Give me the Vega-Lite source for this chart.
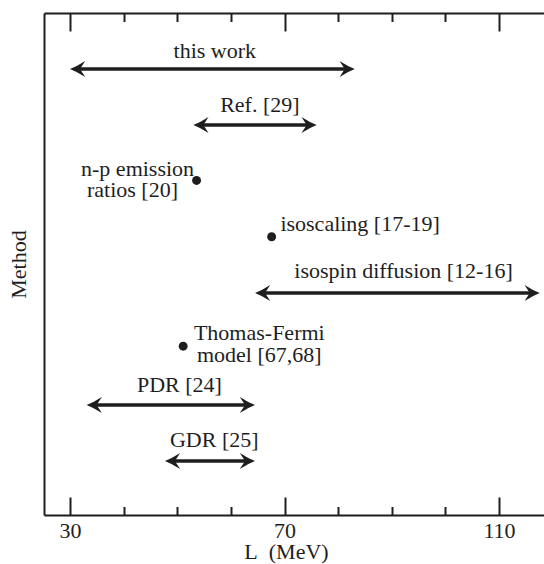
{
  "$schema": "https://vega.github.io/schema/vega-lite/v6.json",
  "width": 500,
  "height": 502,
  "autosize": "none",
  "padding": {"left": 44, "top": 13, "right": 0, "bottom": 49},
  "background": "white",
  "config": {"font": "Liberation Serif", "view": {"stroke": null}},
  "datasets": {
    "ranges": [
      {"method": "this work", "lo": 30.0, "hi": 83.1, "row": 1},
      {"method": "Ref. [29]", "lo": 53.0, "hi": 76.0, "row": 2},
      {"method": "isospin diffusion [12-16]", "lo": 64.5, "hi": 117.6, "row": 5},
      {"method": "PDR [24]", "lo": 33.1, "hi": 64.5, "row": 7},
      {"method": "GDR [25]", "lo": 47.7, "hi": 64.5, "row": 8}
    ],
    "points": [
      {"method": "n-p emission ratios [20]", "L": 53.6, "row": 2.99},
      {"method": "isoscaling [17-19]", "L": 67.6, "row": 3.995},
      {"method": "Thomas-Fermi model [67,68]", "L": 51.1, "row": 5.95}
    ],
    "labels": [
      {"text": "this work", "L": 57.0, "row": 0.804},
      {"text": "Ref. [29]", "L": 65.4, "row": 1.768},
      {"text": "n-p emission", "L": 42.6, "row": 2.91},
      {"text": "ratios [20]", "L": 41.65, "row": 3.277},
      {"text": "isoscaling [17-19]", "L": 84.1, "row": 3.887},
      {"text": "isospin diffusion [12-16]", "L": 92.2, "row": 4.73},
      {"text": "Thomas-Fermi", "L": 65.3, "row": 5.84},
      {"text": "model [67,68]", "L": 65.3, "row": 6.226},
      {"text": "PDR [24]", "L": 50.4, "row": 6.76},
      {"text": "GDR [25]", "L": 56.9, "row": 7.745}
    ]
  },
  "resolve": {"axis": {"x": "independent"}},
  "layer": [
    {
      "data": {"name": "ranges"},
      "mark": {"type": "rule", "color": "#1e1e1e", "strokeWidth": 3.5, "xOffset": 5, "x2Offset": -5},
      "encoding": {
        "x": {
          "field": "lo", "type": "quantitative",
          "scale": {"domain": [25.15, 118.39], "nice": false, "zero": false},
          "axis": {
            "orient": "bottom",
            "values": [30, 70, 110],
            "ticks": true, "tickSize": -18, "tickColor": "#1e1e1e", "tickWidth": 2,
            "grid": false,
            "domainColor": "#1e1e1e", "domainWidth": 2,
            "labelFont": "Liberation Serif", "labelFontSize": 22, "labelColor": "#1e1e1e",
            "labelPadding": 23.5,
            "title": "L\u00a0\u00a0(MeV)",
            "titleFont": "Liberation Serif", "titleFontSize": 22, "titleFontWeight": "normal", "titleColor": "#1e1e1e",
            "titlePadding": 0,
            "titleX": 242
          }
        },
        "x2": {"field": "hi"},
        "y": {
          "field": "row", "type": "quantitative",
          "scale": {"domain": [0, 8.964], "reverse": true, "nice": false, "zero": false},
          "axis": {
            "orient": "left",
            "ticks": false, "labels": false, "grid": false,
            "domainColor": "#1e1e1e", "domainWidth": 2,
            "title": "Method",
            "titleFont": "Liberation Serif", "titleFontSize": 22, "titleFontWeight": "normal", "titleColor": "#1e1e1e",
            "titlePadding": 14
          }
        }
      }
    },
    {
      "data": {"name": "ranges"},
      "mark": {"type": "point", "shape": "M0,0 Q0.9,-0.35 1.9,-1 L1.25,0 L1.9,1 Q0.9,0.35 0,0 Z", "filled": true, "size": 256, "color": "#1e1e1e", "opacity": 1, "strokeWidth": 0},
      "encoding": {
        "x": {
          "field": "lo", "type": "quantitative",
          "scale": {"domain": [25.15, 118.39], "nice": false, "zero": false},
          "axis": {
            "orient": "top",
            "values": [30, 70, 110],
            "labels": false, "ticks": true, "tickSize": -18, "tickColor": "#1e1e1e", "tickWidth": 2, "title": null,
            "grid": false,
            "domainColor": "#1e1e1e", "domainWidth": 2
          }
        },
        "y": {"field": "row", "type": "quantitative", "scale": {"domain": [0, 8.964], "reverse": true, "nice": false, "zero": false}}
      }
    },
    {
      "data": {"name": "ranges"},
      "mark": {"type": "point", "shape": "M0,0 Q-0.9,-0.35 -1.9,-1 L-1.25,0 L-1.9,1 Q-0.9,0.35 0,0 Z", "filled": true, "size": 256, "color": "#1e1e1e", "opacity": 1, "strokeWidth": 0},
      "encoding": {
        "x": {
          "field": "hi", "type": "quantitative",
          "scale": {"domain": [25.15, 118.39], "nice": false, "zero": false},
          "axis": {
            "orient": "bottom",
            "values": [40, 50, 60, 80, 90, 100],
            "labels": false, "domain": false, "ticks": true, "tickSize": -8.5, "tickColor": "#1e1e1e", "tickWidth": 2, "title": null,
            "grid": false
          }
        },
        "y": {"field": "row", "type": "quantitative", "scale": {"domain": [0, 8.964], "reverse": true, "nice": false, "zero": false}}
      }
    },
    {
      "data": {"name": "points"},
      "mark": {"type": "circle", "size": 80, "color": "#1e1e1e", "opacity": 1},
      "encoding": {
        "x": {
          "field": "L", "type": "quantitative",
          "scale": {"domain": [25.15, 118.39], "nice": false, "zero": false},
          "axis": {
            "orient": "top",
            "values": [40, 50, 60, 80, 90, 100],
            "labels": false, "domain": false, "ticks": true, "tickSize": -8.5, "tickColor": "#1e1e1e", "tickWidth": 2, "title": null,
            "grid": false
          }
        },
        "y": {"field": "row", "type": "quantitative", "scale": {"domain": [0, 8.964], "reverse": true, "nice": false, "zero": false}}
      }
    },
    {
      "data": {"name": "labels"},
      "mark": {"type": "text", "font": "Liberation Serif", "fontSize": 22, "color": "#1e1e1e", "align": "center", "baseline": "alphabetic"},
      "encoding": {
        "x": {"field": "L", "type": "quantitative", "scale": {"domain": [25.15, 118.39], "nice": false, "zero": false}, "axis": null},
        "y": {"field": "row", "type": "quantitative", "scale": {"domain": [0, 8.964], "reverse": true, "nice": false, "zero": false}},
        "text": {"field": "text"}
      }
    }
  ]
}
